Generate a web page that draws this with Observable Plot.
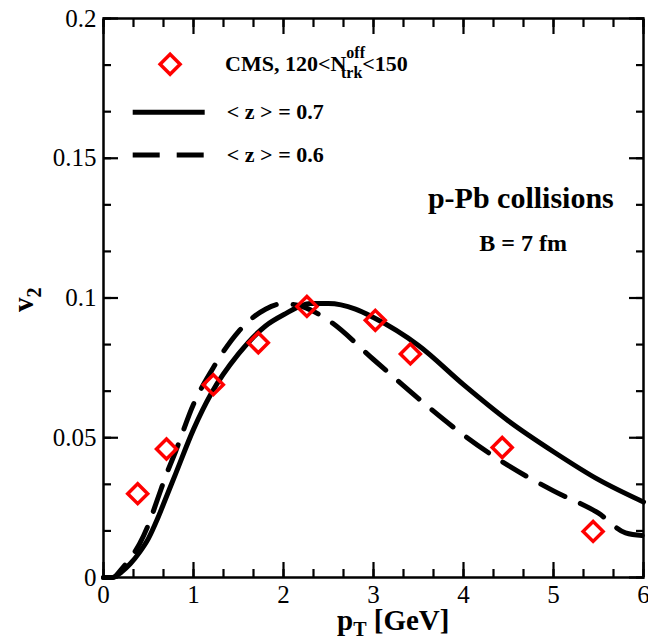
<!DOCTYPE html>
<html><head><meta charset="utf-8">
<script src="https://cdn.jsdelivr.net/npm/d3@7"></script>
<script src="https://cdn.jsdelivr.net/npm/@observablehq/plot@0.6"></script>
<style>body{margin:0;background:#fff}svg{font-family:"Liberation Serif",serif}</style>
</head><body><div id="c"></div>
<script>
const cmsPt = [0.38,0.70,1.22,1.72,2.26,3.02,3.41,4.43,5.44];
const cmsV2 = [0.030,0.046,0.069,0.084,0.097,0.092,0.080,0.0465,0.0165];
const solidPt = [0,0.1,0.2,0.3,0.4,0.5,0.6,0.7,0.8,1.0,1.2,1.5,1.8,2.0,2.3,2.5,2.8,3.0,3.5,4.0,4.5,5.0,5.5,6.0];
const solidV2 = [0,0,0.002,0.005,0.009,0.014,0.021,0.029,0.037,0.053,0.066,0.080,0.090,0.094,0.098,0.098,0.096,0.093,0.083,0.069,0.056,0.045,0.035,0.027];
const dashPt = [0,0.1,0.2,0.3,0.4,0.5,0.6,0.7,0.8,1.0,1.2,1.5,1.8,2.0,2.2,2.5,3.0,3.5,4.0,4.5,5.0,5.5,5.8,6.0];
const dashV2 = [0,0,0.003,0.007,0.012,0.019,0.028,0.037,0.045,0.062,0.074,0.088,0.096,0.098,0.097,0.092,0.078,0.064,0.051,0.040,0.031,0.023,0.016,0.015];
const xTicks = [0,1,2,3,4,5,6];
const yTicks = [0,0.05,0.1,0.15,0.2];
const xMinor = d3.range(0,19).map(i=>i/3);
const yMinor = d3.range(0,13).map(i=>i*0.05/3);

const pts = cmsPt.map((x,i)=>({x,y:cmsV2[i]}));
const sol = solidPt.map((x,i)=>({x,y:solidV2[i]}));
const das = dashPt.map((x,i)=>({x,y:dashV2[i]}));
const noLab = {tickFormat:()=>"", label:null, strokeWidth:2.2};

const chart = Plot.plot({
  width:648, height:643, marginLeft:103, marginRight:5, marginTop:18, marginBottom:66,
  x:{domain:[0,6]}, y:{domain:[0,0.2]},
  style:{fontFamily:"Liberation Serif", fontSize:"25px", color:"#000"},
  marks:[
    Plot.frame({strokeWidth:2.5}),
    Plot.axisX({anchor:"bottom", ticks:xTicks, tickSize:-15, tickFormat:d=>String(d), tickPadding:23, label:null, fontSize:25, strokeWidth:2.2}),
    Plot.axisX({anchor:"bottom", ticks:xMinor, tickSize:-8, ...noLab}),
    Plot.axisX({anchor:"top", ticks:xTicks, tickSize:-15, ...noLab}),
    Plot.axisX({anchor:"top", ticks:xMinor, tickSize:-8, ...noLab}),
    Plot.axisY({anchor:"left", ticks:yTicks, tickSize:-15, tickFormat:d=>String(d), tickPadding:22, label:null, fontSize:25, strokeWidth:2.2}),
    Plot.axisY({anchor:"left", ticks:yMinor, tickSize:-8, ...noLab}),
    Plot.axisY({anchor:"right", ticks:yTicks, tickSize:-15, ...noLab}),
    Plot.axisY({anchor:"right", ticks:yMinor, tickSize:-8, ...noLab}),
    Plot.line(sol,{x:"x",y:"y",curve:"monotone-x",strokeWidth:5}),
    Plot.line(das,{x:"x",y:"y",curve:"monotone-x",strokeWidth:5,strokeDasharray:"27,17"}),
    Plot.dot(pts,{x:"x",y:"y",symbol:"diamond2",r:9,stroke:"#f00",strokeWidth:3.5}),
    Plot.dot([{x:0.74,y:0.1836}],{x:"x",y:"y",symbol:"diamond2",r:9,stroke:"#f00",strokeWidth:3.5}),
    Plot.ruleY([{y:0.1665}],{y:"y",x1:0.33,x2:1.13,strokeWidth:5}),
    Plot.ruleY([{y:0.1512}],{y:"y",x1:0.33,x2:1.13,strokeWidth:5,strokeDasharray:"27,17"}),
    Plot.text([{x:1.37,y:0.1665,t:"< z > = 0.7"}],{x:"x",y:"y",text:"t",textAnchor:"start",fontWeight:"bold",fontSize:22}),
    Plot.text([{x:1.37,y:0.1512,t:"< z > = 0.6"}],{x:"x",y:"y",text:"t",textAnchor:"start",fontWeight:"bold",fontSize:22}),
    Plot.text([{x:5.67,y:0.1355,t:"p-Pb collisions"}],{x:"x",y:"y",text:"t",textAnchor:"end",fontWeight:"bold",fontSize:30}),
    Plot.text([{x:5.15,y:0.1195,t:"B = 7 fm"}],{x:"x",y:"y",text:"t",textAnchor:"end",fontWeight:"bold",fontSize:24})
  ]
});
document.getElementById("c").appendChild(chart);
const svg = d3.select(chart);
const t1 = svg.append("text").attr("x",225).attr("y",71).attr("text-anchor","start").attr("font-size",22).attr("font-weight","bold").attr("font-family","Liberation Serif");
t1.append("tspan").text("CMS, 120<N");
t1.append("tspan").attr("font-size",16).attr("dy",-13).attr("dx",0).text("off");
t1.append("tspan").attr("font-size",16).attr("dy",20).attr("dx",-24).text("trk");
t1.append("tspan").attr("dy",-7).text("<150");
const xl = svg.append("text").attr("x",337).attr("y",630).attr("text-anchor","start").attr("font-size",29).attr("font-weight","bold").attr("font-family","Liberation Serif");
xl.append("tspan").text("p");
xl.append("tspan").attr("font-size",20).attr("dy",6).text("T");
xl.append("tspan").attr("dy",-6).text(" [GeV]");
const yl = svg.append("text").attr("transform","translate(33,312) rotate(-90)").attr("text-anchor","start").attr("font-size",29).attr("font-weight","bold").attr("font-family","Liberation Serif");
yl.append("tspan").text("v");
yl.append("tspan").attr("font-size",20).attr("dy",8).text("2");
</script></body></html>
